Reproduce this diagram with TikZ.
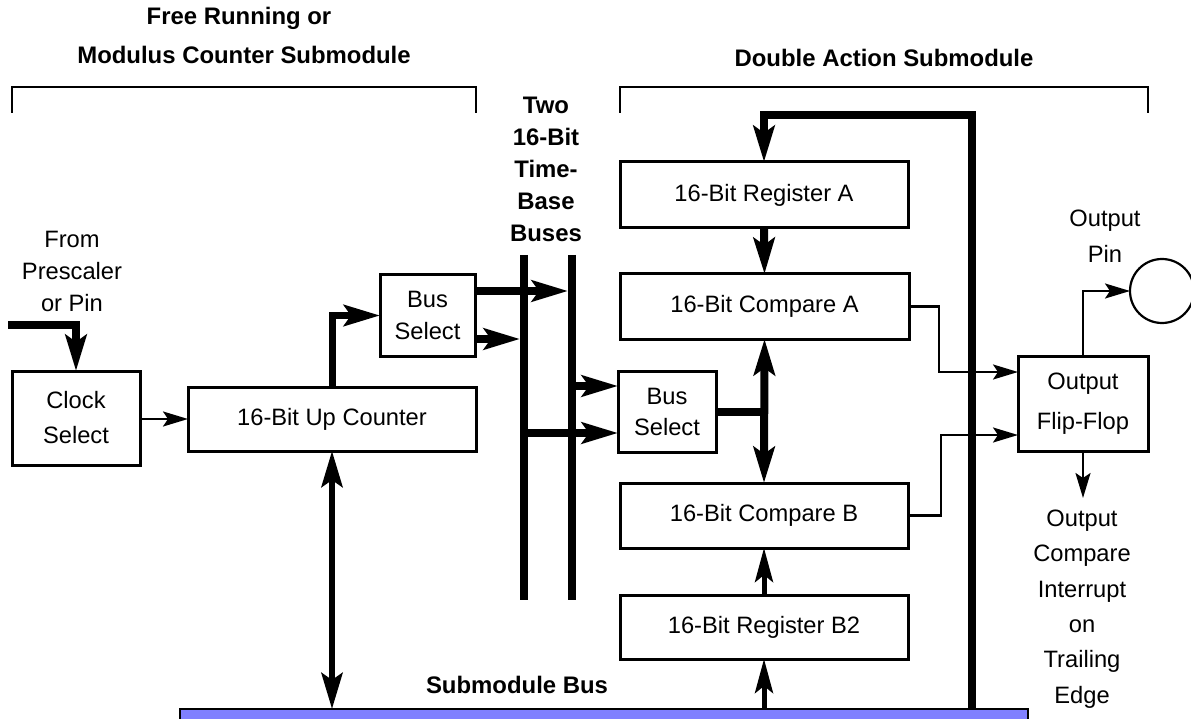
\documentclass[tikz,border=0pt]{standalone}
\usepackage{fontspec}
\setmainfont{Liberation Sans}
\usetikzlibrary{arrows.meta,calc}
\definecolor{busblue}{RGB}{128,128,255}
\begin{document}
\begin{tikzpicture}[x=1pt,y=-1pt,
  every node/.style={inner sep=0pt,outer sep=0pt},
  txt/.style={font=\fontsize{23.7}{32}\selectfont,align=center},
  btxt/.style={font=\fontsize{23.9}{32}\selectfont\bfseries,align=center},
  box/.style={draw,line width=3pt,txt},
  thin/.style={line width=2.2pt,-{Stealth[length=25pt,width=15pt,inset=5pt]}},
  fat/.style={line width=7pt,-{Stealth[length=36pt,width=21pt,inset=7pt]}},
  fatboth/.style={line width=7pt,{Stealth[length=36pt,width=21pt,inset=7pt]}-{Stealth[length=36pt,width=21pt,inset=7pt]}},
  midboth/.style={line width=6pt,{Stealth[length=36pt,width=21pt,inset=7pt]}-{Stealth[length=36pt,width=21pt,inset=7pt]}},
  mid/.style={line width=5pt,-{Stealth[length=34pt,width=18pt,inset=7pt]}},
  bracket/.style={line width=1.8pt},
  busline/.style={line width=8pt}
]
\useasboundingbox (0,0) rectangle (1191,719);

% titles
\node[btxt] (t1) at (239,18) {Free Running or};
\node[btxt] (t2) at (244,55) {Modulus Counter Submodule};
\node[btxt] (t3) at (884,58) {Double Action Submodule};
\node[btxt] (t4) at (546,169.5) {Two\\16-Bit\\Time-\\Base\\Buses};
\node[btxt] (t5) at (517,685) {Submodule Bus};
\node[txt] (t6) at (72,271) {From\\Prescaler\\or Pin};
\node[font=\fontsize{23.7}{36}\selectfont,align=center] (t7) at (1105,236) {Output\\Pin};
\node[font=\fontsize{23.7}{35.4}\selectfont,align=center] (t8) at (1082,609) {Output\\Compare\\Interrupt\\on\\Trailing\\Edge};

% brackets
\draw[bracket] (12,113) -- (12,87) -- (476,87) -- (476,113);
\draw[bracket] (620,113) -- (620,87) -- (1148,87) -- (1148,113);

% submodule bus
\node[draw,line width=1.5pt,fill=busblue,minimum width=848pt,minimum height=20pt,anchor=north west] (sbus) at (180,709) {};

% boxes
\node[box,minimum width=128pt,minimum height=94pt,font=\fontsize{23.7}{35}\selectfont] (clk) at (76,418) {Clock\\Select};
\node[box,minimum width=288pt,minimum height=64pt] (cnt) at (332,419) {16-Bit Up Counter};
\node[box,minimum width=95pt,minimum height=81pt] (bs1) at (427.5,315.5) {Bus\\Select};
\node[box,minimum width=98pt,minimum height=81pt,font=\fontsize{23.7}{31}\selectfont] (bs2) at (667,411.5) {Bus\\Select};
\node[box,minimum width=288pt,minimum height=66pt] (rega) at (764,195) {16-Bit Register A};
\node[box,minimum width=289pt,minimum height=65pt] (cmpa) at (764.5,306.5) {16-Bit Compare A};
\node[box,minimum width=288pt,minimum height=65pt] (cmpb) at (764,515.5) {16-Bit Compare B};
\node[box,minimum width=288pt,minimum height=64pt] (regb) at (764,627) {16-Bit Register B2};
\node[box,minimum width=130pt,minimum height=95pt,font=\fontsize{23.7}{40}\selectfont] (ff) at (1083,403.5) {Output\\Flip-Flop};
\node[draw,line width=2.2pt,circle,minimum size=64pt] (pin) at (1162,291) {};

% coordinates
\coordinate (in) at (8,325);
\coordinate (busLt) at (524,255);
\coordinate (busLb) at (524,600);
\coordinate (busRt) at (572,255);
\coordinate (busRb) at (572,600);
\coordinate (y291) at (0,291);
\coordinate (y339) at (0,339);
\coordinate (y386) at (0,386);
\coordinate (y433) at (0,433);
\coordinate (fb) at (972,709);
\coordinate (fbt) at (764,115);
\coordinate (busb) at (764,709);
\coordinate (busa) at (332,709);
\coordinate (ja) at (939,372);
\coordinate (jb) at (941,435);
\coordinate (irq) at (1083,498);

% time-base buses
\draw[busline] (busLt) -- (busLb);
\draw[busline] (busRt) -- (busRb);

% connectors
\draw[fat,line width=8pt] (in) -| (clk.north);
\draw[thin] (clk.east |- cnt.west) -- (cnt.west);
\draw[fat] (cnt.north) |- (bs1.west);
\draw[fat,line width=8pt] (bs1.east |- y291) -- ([xshift=-4pt]busRt |- y291);
\draw[fat,line width=8pt] (bs1.east |- y339) -- ([xshift=-4pt]busLt |- y339);
\draw[fat,line width=8pt] (busRt |- y386) -- (bs2.west |- y386);
\draw[fat,line width=8pt] (busLt |- y433) -- (bs2.west |- y433);
\draw[line width=8pt] (bs2.east) -- (bs2.east -| cmpa.south);
\draw[fatboth,line width=8pt] (cmpa.south) -- (cmpb.north);
\draw[fat,line width=8pt] (rega.south) -- (cmpa.north);
\draw[fat,line width=8pt,line join=miter] (fb) |- (fbt) -- (rega.north);
\draw[mid] (regb.north) -- (cmpb.south);
\draw[mid] (busb) -- (regb.south);
\draw[midboth] (cnt.south) -- (busa);
\draw[thin] (cmpa.east) -| (ja) -- (ja -| ff.west);
\draw[thin] (cmpb.east) -| (jb) -- (jb -| ff.west);
\draw[thin] (ff.north) |- (pin.west);
\draw[thin] (ff.south) -- (irq);
\end{tikzpicture}
\end{document}
